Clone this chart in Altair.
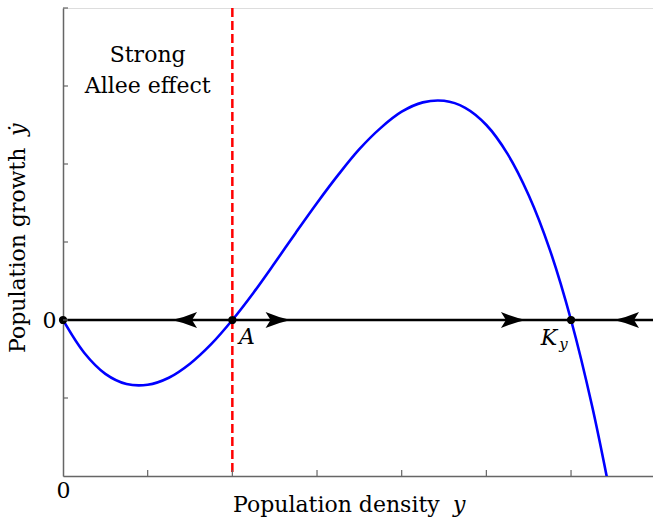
import altair as alt
import pandas as pd

# ---- data ----
curve_x = [0, 0.25, 0.5, 0.75, 1.0, 1.25, 1.5, 1.75, 2.0, 2.25, 2.5, 2.75, 3.0,
           3.25, 3.5, 3.75, 4.0, 4.25, 4.5, 4.75, 5.0, 5.25, 5.5, 5.75, 6.0,
           6.25, 6.5]
curve_y = [0, -0.42, -0.69, -0.82, -0.83, -0.74, -0.56, -0.31, 0, 0.35, 0.73,
           1.12, 1.5, 1.86, 2.19, 2.46, 2.67, 2.79, 2.81, 2.72, 2.5, 2.13,
           1.60, 0.90, 0, -1.11, -2.44]
crit_x = [0, 2, 6]
arrow_right_x = [2.54, 5.32]
arrow_left_x = [1.435, 6.655]
xtick_pos = [1, 2, 3, 4, 5, 6]
ytick_pos = [-1, 0, 1, 2, 3, 4]
allee_x = [2]
label_text = ["A", "K"]
label_x = [2.173, 5.74]
label_y = [-0.308, -0.32]
sub_text = ["y"]
sub_x = [5.91]
sub_y = [-0.372]
note_text = ["Strong\nAllee effect"]
note_x = [1.0]
note_y = [3.308]

X_MAX = 6.968
FONT = "DejaVu Serif"

curve = pd.DataFrame({"x": curve_x, "y": curve_y})
crit = pd.DataFrame({"x": crit_x, "y": [0] * len(crit_x)})
arr_r = pd.DataFrame({"x": arrow_right_x, "y": [0] * len(arrow_right_x)})
arr_l = pd.DataFrame({"x": arrow_left_x, "y": [0] * len(arrow_left_x)})
xt = pd.DataFrame({"x": xtick_pos})
yt = pd.DataFrame({"y": ytick_pos})
allee = pd.DataFrame({"x": allee_x})
labels = pd.DataFrame({"t": label_text, "x": label_x, "y": label_y})
subs = pd.DataFrame({"t": sub_text, "x": sub_x, "y": sub_y})
notes = pd.DataFrame({"t": note_text, "x": note_x, "y": note_y})

xscale = alt.Scale(domain=[0, X_MAX], nice=False, zero=False)
yscale = alt.Scale(domain=[-2, 4], nice=False, zero=False)

xax = alt.Axis(values=[0], format="d", ticks=False, grid=False, title=None,
               labelFlush=False,
               domainColor="#666666", domainWidth=1.5,
               labelFont=FONT, labelFontSize=22, labelColor="black", labelPadding=4)
yax = alt.Axis(values=[0], format="d", ticks=False, grid=False, title=None,
               labelFlush=False,
               domainColor="#666666", domainWidth=1.5,
               labelFont=FONT, labelFontSize=22, labelColor="black", labelPadding=7)

X = lambda: alt.X("x:Q", scale=xscale, axis=xax)
Y = lambda: alt.Y("y:Q", scale=yscale, axis=yax)

base_curve = alt.Chart(curve).mark_line(color="#0000ff", strokeWidth=2.6, clip=True,
                                         interpolate="catmull-rom").encode(x=X(), y=Y())

red = alt.Chart(allee).mark_rule(color="#ff0000", strokeWidth=2.5,
                                 strokeDash=[9, 4]).encode(x=alt.X("x:Q", scale=xscale))

zero = alt.Chart(crit.head(1)).mark_rule(color="black", strokeWidth=2.6).encode(
    y=alt.Y("y:Q", scale=yscale))

right_path = "M1,0 Q0,-0.22 -1,-0.64 L-0.6,0 L-1,0.64 Q0,0.22 1,0 Z"
left_path = "M-1,0 Q0,-0.22 1,-0.64 L0.6,0 L1,0.64 Q0,0.22 -1,0 Z"

ar = alt.Chart(arr_r).mark_point(shape=right_path, size=625, filled=True,
                                 color="black", opacity=1, strokeWidth=0).encode(
    x=alt.X("x:Q", scale=xscale), y=alt.Y("y:Q", scale=yscale))
al = alt.Chart(arr_l).mark_point(shape=left_path, size=625, filled=True,
                                 color="black", opacity=1, strokeWidth=0).encode(
    x=alt.X("x:Q", scale=xscale), y=alt.Y("y:Q", scale=yscale))

dots = alt.Chart(crit).mark_circle(size=68, color="black", opacity=1).encode(
    x=alt.X("x:Q", scale=xscale), y=alt.Y("y:Q", scale=yscale))

xticks = alt.Chart(xt).mark_rule(color="#666666", strokeWidth=1.2).encode(
    x=alt.X("x:Q", scale=xscale), y=alt.value(468), y2=alt.value(462))
yticks = alt.Chart(yt).mark_rule(color="#666666", strokeWidth=1.2).encode(
    y=alt.Y("y:Q", scale=yscale), x=alt.value(0), x2=alt.value(5))

lab = alt.Chart(labels).mark_text(font=FONT, fontSize=22, fontStyle="italic",
                                  align="center", baseline="alphabetic",
                                  color="black").encode(
    x=alt.X("x:Q", scale=xscale), y=alt.Y("y:Q", scale=yscale), text="t:N")
sub = alt.Chart(subs).mark_text(font=FONT, fontSize=15, fontStyle="italic",
                                align="center", baseline="alphabetic",
                                color="black").encode(
    x=alt.X("x:Q", scale=xscale), y=alt.Y("y:Q", scale=yscale), text="t:N")
note = alt.Chart(notes).mark_text(font=FONT, fontSize=22, align="center",
                                  baseline="alphabetic", lineBreak="\n",
                                  lineHeight=31, color="black").encode(
    x=alt.X("x:Q", scale=xscale), y=alt.Y("y:Q", scale=yscale), text="t:N")

# axis titles (mixed upright / italic)
title_df = pd.DataFrame({"t": ["Population density"]})
xt1 = alt.Chart(title_df).mark_text(font=FONT, fontSize=22, align="left",
                                    baseline="alphabetic", color="black").encode(
    x=alt.value(170), y=alt.value(504), text="t:N")
xt2 = alt.Chart(pd.DataFrame({"t": ["y"]})).mark_text(
    font=FONT, fontSize=22, fontStyle="italic", align="left",
    baseline="alphabetic", color="black").encode(
    x=alt.value(390), y=alt.value(504), text="t:N")
yt1 = alt.Chart(pd.DataFrame({"t": ["Population growth"]})).mark_text(
    font=FONT, fontSize=22, align="left", baseline="alphabetic", angle=270,
    color="black").encode(x=alt.value(-38), y=alt.value(345), text="t:N")
yt2 = alt.Chart(pd.DataFrame({"t": ["ẏ"]})).mark_text(
    font=FONT, fontSize=22, fontStyle="italic", align="left",
    baseline="alphabetic", angle=270, color="black").encode(
    x=alt.value(-38), y=alt.value(128), text="t:N")

chart = alt.layer(base_curve, red, zero, ar, al, dots, xticks, yticks,
                  lab, sub, note, xt1, xt2, yt1, yt2).properties(
    width=590, height=468,
    autosize=alt.AutoSizeParams(type="none"),
    padding={"left": 63, "top": 8, "right": 0, "bottom": 47},
).configure_view(stroke=None).configure(background="white")

chart.save("out.html", embed_options={"renderer": "svg", "actions": False})
